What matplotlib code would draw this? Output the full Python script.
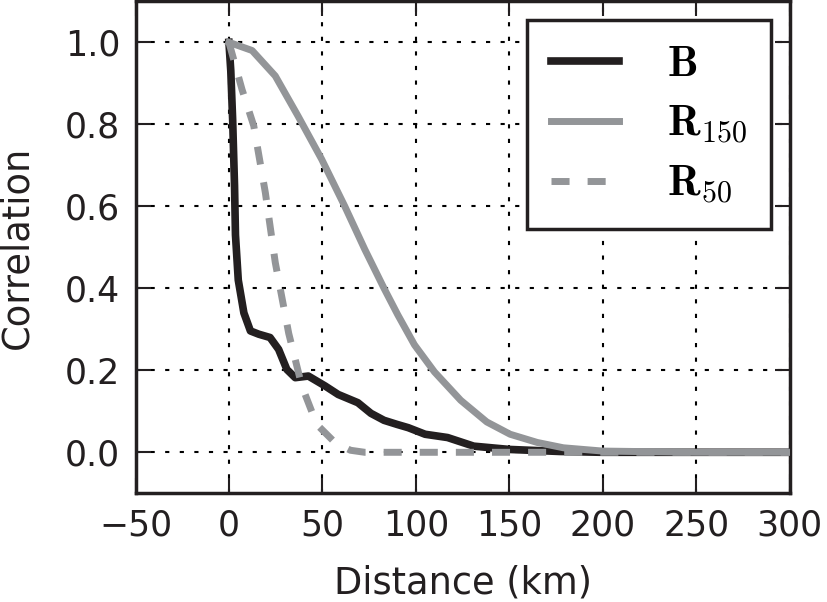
import matplotlib
matplotlib.use("Agg")
import matplotlib.pyplot as plt

# Data
b_x = [0, 1, 2, 3, 3.5, 5, 8, 11.5, 16, 22, 26.6, 31, 35.5, 42.5, 51.4, 58.5, 69, 76, 83, 90, 96, 105, 117, 131, 150, 177, 200, 250, 300]
b_y = [1.0, 0.93, 0.81, 0.65, 0.53, 0.42, 0.34, 0.296, 0.288, 0.28, 0.251, 0.202, 0.182, 0.186, 0.162, 0.141, 0.121, 0.095, 0.078, 0.068, 0.06, 0.044, 0.036, 0.015, 0.007, 0.002, 0.0, 0.0, 0.0]

r150_x = [0, 12.4, 24.8, 37, 49.6, 62, 72.7, 83, 90.4, 99.3, 110, 124, 138, 150.5, 165, 179, 200, 250, 300]
r150_y = [1.0, 0.98, 0.918, 0.82, 0.715, 0.60, 0.495, 0.40, 0.335, 0.262, 0.196, 0.127, 0.074, 0.044, 0.024, 0.011, 0.003, 0.0, 0.0]

r50_x = [0, 7, 13.3, 19.5, 24.8, 32, 39, 47, 56.7, 65, 72.7, 100, 150, 200, 250, 300]
r50_y = [1.0, 0.885, 0.796, 0.633, 0.463, 0.29, 0.162, 0.068, 0.024, 0.005, 0.0, 0.0, 0.0, 0.0, 0.0, 0.0]

labels = [r'$\mathbf{B}$', r'$\mathbf{R}_{150}$', r'$\mathbf{R}_{50}$']
x_ticks = [-50, 0, 50, 100, 150, 200, 250, 300]
y_ticks = [0.0, 0.2, 0.4, 0.6, 0.8, 1.0]

plt.rcParams['font.family'] = ['DejaVu Sans']
plt.rcParams['mathtext.fontset'] = 'cm'

black = '#231f20'
gray = '#939598'

fig = plt.figure(figsize=(8.27, 6.02), dpi=100)
ax = fig.add_axes([135.5/827, 1 - 493.3/602, (789.5-135.5)/827, (493.3-1.3)/602])

ax.plot(b_x, b_y, color=black, lw=5.5, label=labels[0], zorder=3)
ax.plot(r150_x, r150_y, color=gray, lw=5.0, label=labels[1], zorder=3)
ax.plot(r50_x, r50_y, color=gray, lw=5.0, ls=(0, (2.6, 2.6)), label=labels[2], zorder=3)

ax.set_xlim(-50, 300)
ax.set_ylim(-0.1, 1.1)
ax.set_xticks(x_ticks)
ax.set_yticks(y_ticks)
ax.set_xticklabels(['\u221250' if v < 0 else str(v) for v in x_ticks])
ax.set_yticklabels([f'{v:.1f}' for v in y_ticks])

ax.grid(True, color='black', lw=1.5, ls=(0, (2, 5)))
ax.tick_params(direction='in', length=11, width=1.5, labelsize=25, colors=black,
               top=True, right=True, pad=11)
for sp in ax.spines.values():
    sp.set_linewidth(2.5)
    sp.set_color(black)

ax.set_xlabel('Distance (km)', fontsize=26.5, color=black, labelpad=16)
ax.set_ylabel('Correlation', fontsize=26.5, color=black, labelpad=21)

leg = ax.legend(loc='upper right', fontsize=31, handlelength=1.6, handletextpad=1.1,
                borderaxespad=0.43, labelspacing=0.4, borderpad=0.55, fancybox=False,
                framealpha=1.0)
leg.get_frame().set_edgecolor(black)
leg.get_frame().set_linewidth(2.5)

fig.savefig('out.png', dpi=100, facecolor='white')
